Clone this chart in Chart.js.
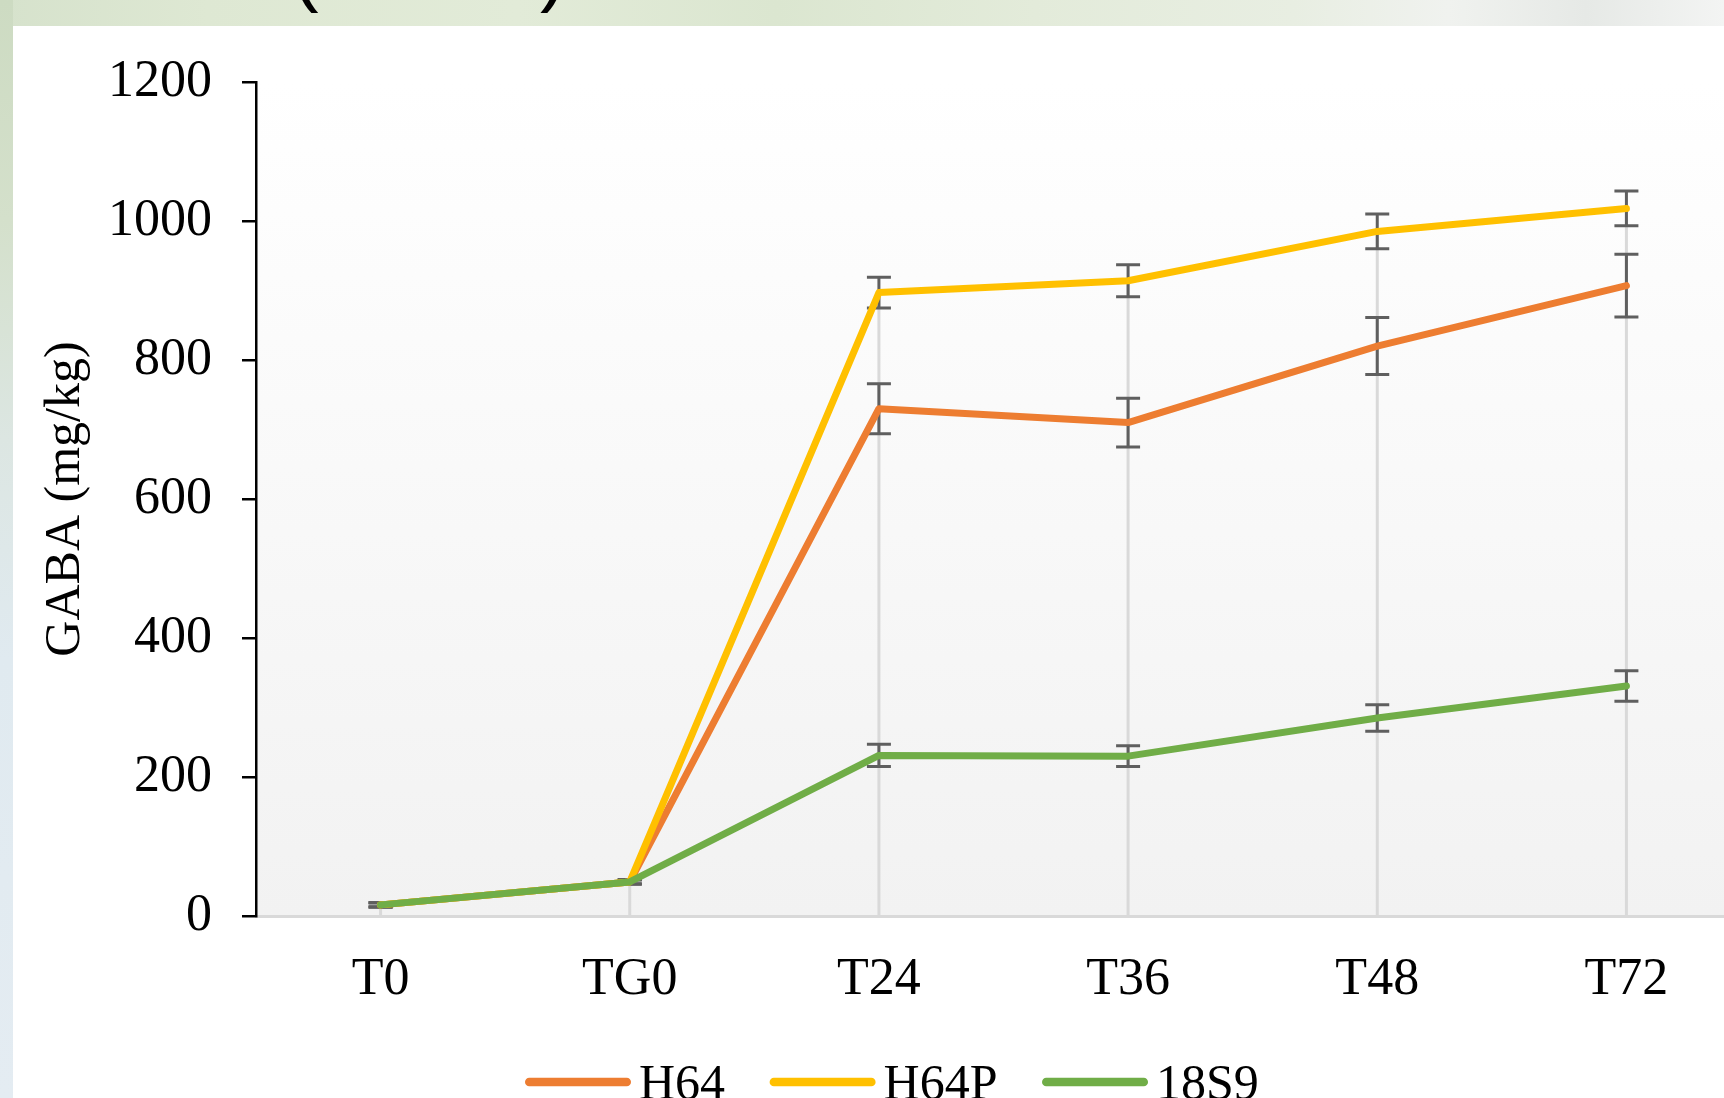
<!DOCTYPE html>
<html>
<head>
<meta charset="utf-8">
<title>GABA (mg/kg)</title>
<script src="https://cdn.jsdelivr.net/npm/chart.js@4.4.1/dist/chart.umd.min.js"></script>
<style>
  html, body { margin: 0; padding: 0; width: 1724px; height: 1098px; overflow: hidden; }
  body {
    position: relative;
    background: linear-gradient(to right, #d6e2cc 0%, #dee8d3 12%, #e2ebd8 30%, #dbe6d0 45%, #e3ebda 60%, #e8eee2 75%, #f0f2ef 84%, #e6e9e6 92%, #f3f4f3 100%);
  }
  #leftStrip {
    position: absolute; left: 0; top: 0; width: 13px; height: 1098px;
    background: linear-gradient(to bottom, #cddbc2 0%, #d4e0cb 20%, #dce6e2 40%, #e0eaf0 60%, #e4ecf2 100%);
  }
  #panel { position: absolute; left: 13px; top: 26px; right: 0; bottom: 0; background: #ffffff; }
  .paren {
    position: absolute; top: -71px;
    font-family: "Liberation Sans", Arial, sans-serif; font-size: 80px; line-height: 80px; color: #000;
  }
  #wrap { position: absolute; left: 0; top: 0; width: 1751px; height: 1120px; }
</style>
</head>
<body>
<div id="leftStrip"></div>
<span class="paren" style="left:292px">(</span>
<span class="paren" style="left:540px">)</span>
<div id="panel"></div>
<div id="wrap"><canvas id="chart"></canvas></div>
<script>
// Sampling times and GABA content (mg/kg) per strain, with standard deviations
const categories = ['T0', 'TG0', 'T24', 'T36', 'T48', 'T72'];
const seriesNames = ['H64', 'H64P', '18S9'];
const seriesColors = ['#ED7D31', '#FFC000', '#70AD47'];

const h64 = [16, 49, 730, 710, 820, 907];
const h64Err = [3, 3, 36, 35, 41, 45];

const h64p = [16, 49, 897, 914, 985, 1018];
const h64pErr = [3, 3, 22, 23, 25, 25];

const s18s9 = [16, 49, 231, 230, 285, 331];
const s18s9Err = [3, 3, 16, 15, 19, 22];

const yTickValues = [0, 200, 400, 600, 800, 1000, 1200];
const yTitle = 'GABA (mg/kg)';

const serif = '"Liberation Serif", "Times New Roman", serif';

// Plot area shading: white at the top fading to light grey at the base
const plotBackground = {
  id: 'plotBackground',
  beforeDraw(chart) {
    const { ctx, chartArea: a } = chart;
    const g = ctx.createLinearGradient(0, a.top, 0, a.bottom);
    g.addColorStop(0, '#ffffff');
    g.addColorStop(1, '#f2f2f2');
    ctx.save();
    ctx.fillStyle = g;
    ctx.fillRect(a.left, a.top, a.right - a.left, a.bottom - a.top);
    ctx.restore();
  }
};

// Drop lines from the highest point of each category down to the axis,
// followed by the error bars, both beneath the series lines
const dropLinesAndErrors = {
  id: 'dropLinesAndErrors',
  beforeDatasetsDraw(chart) {
    const { ctx, scales: { x, y } } = chart;
    const sets = chart.data.datasets;
    ctx.save();
    ctx.strokeStyle = '#d9d9d9';
    ctx.lineWidth = 3;
    categories.forEach((c, i) => {
      const top = Math.max(...sets.map(ds => ds.data[i]));
      const px = x.getPixelForValue(i);
      ctx.beginPath();
      ctx.moveTo(px, y.getPixelForValue(top));
      ctx.lineTo(px, y.getPixelForValue(0));
      ctx.stroke();
    });
    ctx.strokeStyle = '#5f5f5f';
    ctx.lineWidth = 3;
    const cap = 12;
    sets.forEach(ds => {
      ds.data.forEach((v, i) => {
        const e = ds.errors[i];
        const px = x.getPixelForValue(i);
        const hi = y.getPixelForValue(v + e);
        const lo = y.getPixelForValue(v - e);
        ctx.beginPath();
        ctx.moveTo(px, hi); ctx.lineTo(px, lo);
        ctx.moveTo(px - cap, hi); ctx.lineTo(px + cap, hi);
        ctx.moveTo(px - cap, lo); ctx.lineTo(px + cap, lo);
        ctx.stroke();
      });
    });
    ctx.restore();
  }
};

// Legend row: short thick line swatch followed by the series name
const lineLegend = {
  id: 'lineLegend',
  afterDraw(chart) {
    const { ctx } = chart;
    const cy = 1082, baseline = 1099;
    const swatch = 106, thick = 8.5, textGap = 8, itemGap = 44.5;
    let x = 525;
    ctx.save();
    ctx.font = '50px ' + serif;
    ctx.textBaseline = 'alphabetic';
    ctx.textAlign = 'left';
    chart.data.datasets.forEach(ds => {
      ctx.strokeStyle = ds.borderColor;
      ctx.lineWidth = thick;
      ctx.lineCap = 'round';
      ctx.beginPath();
      ctx.moveTo(x + thick / 2, cy);
      ctx.lineTo(x + swatch - thick / 2, cy);
      ctx.stroke();
      x += swatch + textGap;
      ctx.fillStyle = '#000';
      ctx.fillText(ds.label, x, baseline);
      x += ctx.measureText(ds.label).width + itemGap;
    });
    ctx.restore();
  }
};

const seriesData = [h64, h64p, s18s9];
const seriesErrors = [h64Err, h64pErr, s18s9Err];

const datasets = seriesNames.map((name, k) => ({
  label: name,
  data: seriesData[k],
  errors: seriesErrors[k],
  borderColor: seriesColors[k],
  backgroundColor: seriesColors[k],
  borderWidth: 7,
  borderCapStyle: 'round',
  borderJoinStyle: 'round',
  pointRadius: 0,
  pointHoverRadius: 0,
  tension: 0,
  fill: false,
  order: seriesNames.length - k
}));

new Chart(document.getElementById('chart'), {
  type: 'line',
  data: { labels: categories, datasets },
  plugins: [plotBackground, dropLinesAndErrors, lineLegend],
  options: {
    responsive: true,
    maintainAspectRatio: false,
    animation: false,
    events: [],
    layout: { padding: { left: 0, right: 0, top: 82, bottom: 74 } },
    plugins: { legend: { display: false }, tooltip: { enabled: false } },
    scales: {
      x: {
        offset: true,
        grid: { display: false, drawTicks: false, tickLength: 0 },
        border: { display: true, color: '#d9d9d9', width: 3 },
        ticks: { color: '#000', font: { family: serif, size: 52 }, padding: 33, maxRotation: 0 },
        afterFit(scale) { scale.height = 130; }
      },
      y: {
        min: 0,
        max: 1200,
        afterBuildTicks(scale) { scale.ticks = yTickValues.map(v => ({ value: v })); },
        grid: { drawOnChartArea: false, drawTicks: true, tickLength: 14, color: '#000', lineWidth: 2.5 },
        border: { display: true, color: '#000', width: 2.5 },
        ticks: {
          color: '#000', font: { family: serif, size: 52 }, padding: 30,
          callback: v => String(v)
        },
        title: {
          display: true, text: yTitle, color: '#000',
          font: { family: serif, size: 50 }, padding: { top: 36, bottom: 0 }
        },
        afterFit(scale) { scale.width = 256; }
      }
    }
  }
});
</script>
</body>
</html>
